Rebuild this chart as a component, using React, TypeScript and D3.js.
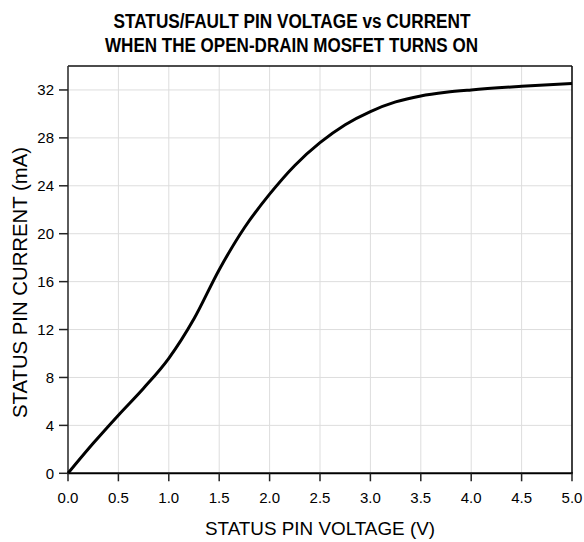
import React from "react";
import * as d3 from "d3";

const voltage = [0, 0.25, 0.5, 0.75, 1.0, 1.25, 1.5, 1.75, 2.0, 2.25, 2.5, 2.75, 3.0, 3.25, 3.5, 3.75, 4.0, 4.5, 5.0];
const current = [0, 2.5, 4.85, 7.1, 9.6, 12.9, 17.0, 20.5, 23.3, 25.7, 27.6, 29.1, 30.2, 31.0, 31.5, 31.8, 32.0, 32.3, 32.55];
const xTicks = [0, 0.5, 1.0, 1.5, 2.0, 2.5, 3.0, 3.5, 4.0, 4.5, 5.0];
const yTicks = [0, 4, 8, 12, 16, 20, 24, 28, 32];
const titleLines = ["STATUS/FAULT PIN VOLTAGE vs CURRENT", "WHEN THE OPEN-DRAIN MOSFET TURNS ON"];
const xTitle = "STATUS PIN VOLTAGE (V)";
const yTitle = "STATUS PIN CURRENT (mA)";

const W = 584;
const H = 542;
const L = 68, R = 572, T = 66, B = 473.3;
const FONT = "'Liberation Sans', Arial, Helvetica, sans-serif";

export default function App() {
  const x = d3.scaleLinear().domain([0, 5]).range([L, R]);
  const y = d3.scaleLinear().domain([0, 34]).range([B, T]);
  const pts: [number, number][] = voltage.map((v, i) => [v, current[i]]);
  const line = d3
    .line<[number, number]>()
    .x((d) => x(d[0]))
    .y((d) => y(d[1]))
    .curve(d3.curveMonotoneX);

  return (
    <svg
      width={W}
      height={H}
      style={{ position: "absolute", left: 0, top: 0, background: "#fff" }}
      fontFamily={FONT}
    >
      <rect x={0} y={0} width={W} height={H} fill="#fff" />
      {/* title */}
      <text x={292} y={27.5} textAnchor="middle" fontWeight="bold" fontSize={19.5} textLength={357} lengthAdjust="spacingAndGlyphs">
        {titleLines[0]}
      </text>
      <text x={291.5} y={52} textAnchor="middle" fontWeight="bold" fontSize={19.5} textLength={373} lengthAdjust="spacingAndGlyphs">
        {titleLines[1]}
      </text>
      {/* grid */}
      {xTicks.slice(1, -1).map((t) => (
        <line key={"gx" + t} x1={x(t)} x2={x(t)} y1={T} y2={B} stroke="#dddddd" strokeWidth={1} />
      ))}
      {yTicks.slice(1).map((t) => (
        <line key={"gy" + t} x1={L} x2={R} y1={y(t)} y2={y(t)} stroke="#dddddd" strokeWidth={1} />
      ))}
      {/* frame */}
      <line x1={L} x2={R} y1={T} y2={T} stroke="#111" strokeWidth={1.6} />
      <line x1={R} x2={R} y1={T} y2={B} stroke="#111" strokeWidth={1.6} />
      <line x1={L} x2={L} y1={T} y2={B} stroke="#333" strokeWidth={1.6} />
      {/* curve */}
      <path d={line(pts) || ""} fill="none" stroke="#000" strokeWidth={3} strokeLinejoin="round" />
      <line x1={L - 1} x2={R + 0.8} y1={B} y2={B} stroke="#000" strokeWidth={2} />
      {/* x ticks */}
      {xTicks.map((t) => (
        <g key={"xt" + t}>
          <line x1={x(t)} x2={x(t)} y1={B} y2={B + 8} stroke="#222" strokeWidth={1.5} />
          <text x={x(t)} y={502.5} textAnchor="middle" fontSize={15} fill="#000">
            {d3.format(".1f")(t)}
          </text>
        </g>
      ))}
      {/* y ticks */}
      {yTicks.map((t) => (
        <g key={"yt" + t}>
          <line x1={L - 9} x2={L} y1={y(t)} y2={y(t)} stroke="#222" strokeWidth={1.5} />
          <text x={54} y={y(t)} dy="0.36em" textAnchor="end" fontSize={15} fill="#000">
            {t}
          </text>
        </g>
      ))}
      {/* axis titles */}
      <text x={320} y={535} textAnchor="middle" fontSize={18.5} textLength={230} lengthAdjust="spacingAndGlyphs">
        {xTitle}
      </text>
      <text
        transform="translate(26.5,282.5) rotate(-90)"
        textAnchor="middle"
        fontSize={20}
        textLength={271}
        lengthAdjust="spacingAndGlyphs"
      >
        {yTitle}
      </text>
    </svg>
  );
}
